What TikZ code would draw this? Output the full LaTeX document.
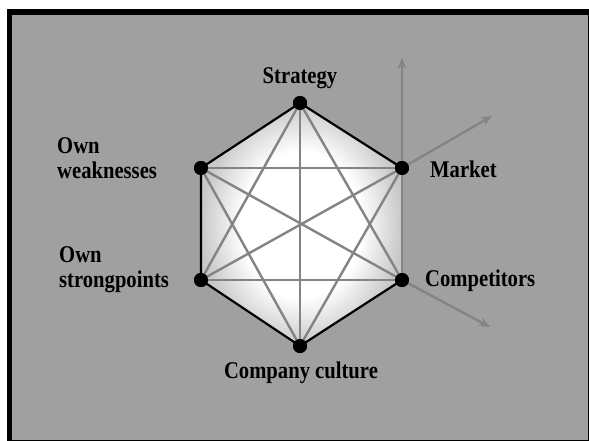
\documentclass[tikz,border=0pt]{standalone}
\usepackage{fontspec}
\setmainfont{Liberation Serif}
\newfontfamily\lblfont[FakeStretch=0.86]{Liberation Serif}
\usetikzlibrary{arrows.meta}
\definecolor{bg}{RGB}{160,160,160}
\definecolor{ln}{RGB}{132,132,132}
\definecolor{rim}{RGB}{200,200,200}
\pgfdeclareradialshading{glow}{\pgfpoint{0bp}{0bp}}{color(0bp)=(white); color(15bp)=(white); color(25bp)=(rim); color(50bp)=(rim)}
\tikzset{
  dot/.style={circle, fill=black, inner sep=0pt, minimum size=14pt},
  lbl/.style={inner sep=0pt, font=\lblfont\fontsize{24}{25}\selectfont\bfseries},
  diag/.style={draw=ln, line width=2.4pt},
  side/.style={draw=black, line width=2.2pt},
  arr/.style={draw=ln, line width=2.4pt, -{Stealth[length=11pt,width=9pt]}}
}
\begin{document}
\begin{tikzpicture}[x=1pt,y=-1pt]
\useasboundingbox (0,0) rectangle (589,441);
\fill[white] (0,0) rectangle (589,441);
\fill[black] (7,9) rectangle (589,441);
\fill[bg] (12,15) rectangle (588,440);
% vertices
\coordinate (pS) at (300,103);
\coordinate (pM) at (402,168);
\coordinate (pC) at (402,280);
\coordinate (pU) at (300,346);
\coordinate (pP) at (201,280);
\coordinate (pW) at (201,168);
\fill[shading=glow] (pS) -- (pM) -- (pC) -- (pU) -- (pP) -- (pW) -- cycle;
\node[dot] (st) at (pS) {};
\node[dot] (ma) at (pM) {};
\node[dot] (co) at (pC) {};
\node[dot] (cu) at (pU) {};
\node[dot] (sp) at (pP) {};
\node[dot] (we) at (pW) {};
\coordinate (tipU) at (402,58);
\coordinate (tipR) at (492,116);
\coordinate (tipD) at (490,327);
% gray arrows
\path[arr] (co.center) -- (tipU);
\path[arr] (ma.center) -- (tipR);
\path[arr] (co.center) -- (tipD);
% diagonals
\path[diag] (we.center) -- (ma.center);
\path[diag] (sp.center) -- (co.center);
\path[diag] (st.center) -- (cu.center);
\path[diag] (st.center) -- (sp.center);
\path[diag] (st.center) -- (co.center);
\path[diag] (cu.center) -- (we.center);
\path[diag] (cu.center) -- (ma.center);
\path[diag] (we.center) -- (co.center);
\path[diag] (sp.center) -- (ma.center);
% black sides
\path[side] (ma.center) -- (st.center) -- (we.center) -- (sp.center) -- (cu.center) -- (co.center);
% dots on top
\foreach \n in {st,ma,co,cu,sp,we} \fill (\n) circle (7pt);
% labels
\node[lbl, anchor=base] (lS) at (300,84) {Strategy};
\node[lbl, anchor=base west] (lM) at (430,177) {Market};
\node[lbl, anchor=base west] (lC) at (425,286) {Competitors};
\node[lbl, anchor=base] (lU) at (301,378) {Company culture};
\node[lbl, anchor=west, align=left] (lW) at (57,158) {Own\\weaknesses};
\node[lbl, anchor=west, align=left] (lP) at (59,270) {Own\\strongpoints};
\end{tikzpicture}
\end{document}
